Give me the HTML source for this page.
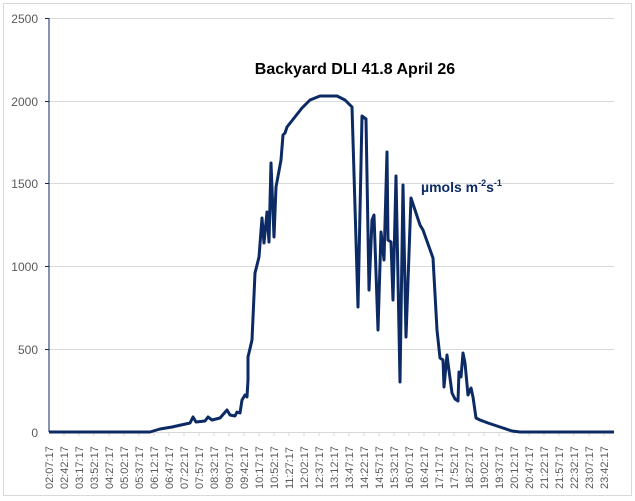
<!DOCTYPE html>
<html><head><style>
body{margin:0;background:#fff;}
svg{display:block;font-family:"Liberation Sans",sans-serif;}
</style></head><body>
<svg width="635" height="501" viewBox="0 0 635 501">
<rect x="3.5" y="3.5" width="628" height="492" fill="#fff" stroke="#d9d9d9"/>
<g stroke="#d9d9d9" stroke-width="1">
<line x1="49" y1="18.5" x2="614" y2="18.5"/>
<line x1="49" y1="101.5" x2="614" y2="101.5"/>
<line x1="49" y1="183.5" x2="614" y2="183.5"/>
<line x1="49" y1="266.5" x2="614" y2="266.5"/>
<line x1="49" y1="349.5" x2="614" y2="349.5"/>
</g>
<g fill="#595959" font-size="12" text-anchor="end">
<text x="38" y="23">2500</text><text x="38" y="106">2000</text><text x="38" y="188">1500</text>
<text x="38" y="271">1000</text><text x="38" y="354">500</text><text x="38" y="437">0</text>
</g>
<g stroke="#0c2a64" stroke-width="1">
<line x1="49" y1="18" x2="49" y2="432"/>
<line x1="45" y1="18.5" x2="49" y2="18.5"/><line x1="45" y1="101.5" x2="49" y2="101.5"/>
<line x1="45" y1="183.5" x2="49" y2="183.5"/><line x1="45" y1="266.5" x2="49" y2="266.5"/>
<line x1="45" y1="349.5" x2="49" y2="349.5"/>
</g>
<line x1="49" y1="432.5" x2="614" y2="432.5" stroke="#d9d9d9"/>
<g stroke="#d9d9d9">
<line x1="64" y1="432" x2="64" y2="436"/><line x1="79" y1="432" x2="79" y2="436"/><line x1="94" y1="432" x2="94" y2="436"/><line x1="109" y1="432" x2="109" y2="436"/><line x1="124" y1="432" x2="124" y2="436"/><line x1="139" y1="432" x2="139" y2="436"/><line x1="154" y1="432" x2="154" y2="436"/><line x1="169" y1="432" x2="169" y2="436"/><line x1="184" y1="432" x2="184" y2="436"/><line x1="199" y1="432" x2="199" y2="436"/><line x1="214" y1="432" x2="214" y2="436"/><line x1="229" y1="432" x2="229" y2="436"/><line x1="244" y1="432" x2="244" y2="436"/><line x1="259" y1="432" x2="259" y2="436"/><line x1="274" y1="432" x2="274" y2="436"/><line x1="289" y1="432" x2="289" y2="436"/><line x1="304" y1="432" x2="304" y2="436"/><line x1="319" y1="432" x2="319" y2="436"/><line x1="334" y1="432" x2="334" y2="436"/><line x1="349" y1="432" x2="349" y2="436"/><line x1="364" y1="432" x2="364" y2="436"/><line x1="379" y1="432" x2="379" y2="436"/><line x1="394" y1="432" x2="394" y2="436"/><line x1="409" y1="432" x2="409" y2="436"/><line x1="424" y1="432" x2="424" y2="436"/><line x1="439" y1="432" x2="439" y2="436"/><line x1="454" y1="432" x2="454" y2="436"/><line x1="469" y1="432" x2="469" y2="436"/><line x1="484" y1="432" x2="484" y2="436"/><line x1="499" y1="432" x2="499" y2="436"/><line x1="514" y1="432" x2="514" y2="436"/><line x1="529" y1="432" x2="529" y2="436"/><line x1="544" y1="432" x2="544" y2="436"/><line x1="559" y1="432" x2="559" y2="436"/><line x1="574" y1="432" x2="574" y2="436"/><line x1="589" y1="432" x2="589" y2="436"/><line x1="604" y1="432" x2="604" y2="436"/>
</g>
<g fill="#595959" font-size="11">
<text transform="translate(53,489) rotate(-90)">02:07:17</text>
<text transform="translate(68,489) rotate(-90)">02:42:17</text>
<text transform="translate(83,489) rotate(-90)">03:17:17</text>
<text transform="translate(98,489) rotate(-90)">03:52:17</text>
<text transform="translate(113,489) rotate(-90)">04:27:17</text>
<text transform="translate(128,489) rotate(-90)">05:02:17</text>
<text transform="translate(143,489) rotate(-90)">05:37:17</text>
<text transform="translate(158,489) rotate(-90)">06:12:17</text>
<text transform="translate(173,489) rotate(-90)">06:47:17</text>
<text transform="translate(188,489) rotate(-90)">07:22:17</text>
<text transform="translate(203,489) rotate(-90)">07:57:17</text>
<text transform="translate(218,489) rotate(-90)">08:32:17</text>
<text transform="translate(233,489) rotate(-90)">09:07:17</text>
<text transform="translate(248,489) rotate(-90)">09:42:17</text>
<text transform="translate(263,489) rotate(-90)">10:17:17</text>
<text transform="translate(278,489) rotate(-90)">10:52:17</text>
<text transform="translate(293,489) rotate(-90)">11:27:17</text>
<text transform="translate(308,489) rotate(-90)">12:02:17</text>
<text transform="translate(323,489) rotate(-90)">12:37:17</text>
<text transform="translate(338,489) rotate(-90)">13:12:17</text>
<text transform="translate(353,489) rotate(-90)">13:47:17</text>
<text transform="translate(368,489) rotate(-90)">14:22:17</text>
<text transform="translate(383,489) rotate(-90)">14:57:17</text>
<text transform="translate(398,489) rotate(-90)">15:32:17</text>
<text transform="translate(413,489) rotate(-90)">16:07:17</text>
<text transform="translate(428,489) rotate(-90)">16:42:17</text>
<text transform="translate(443,489) rotate(-90)">17:17:17</text>
<text transform="translate(458,489) rotate(-90)">17:52:17</text>
<text transform="translate(473,489) rotate(-90)">18:27:17</text>
<text transform="translate(488,489) rotate(-90)">19:02:17</text>
<text transform="translate(503,489) rotate(-90)">19:37:17</text>
<text transform="translate(518,489) rotate(-90)">20:12:17</text>
<text transform="translate(533,489) rotate(-90)">20:47:17</text>
<text transform="translate(548,489) rotate(-90)">21:22:17</text>
<text transform="translate(563,489) rotate(-90)">21:57:17</text>
<text transform="translate(578,489) rotate(-90)">22:32:17</text>
<text transform="translate(593,489) rotate(-90)">23:07:17</text>
<text transform="translate(608,489) rotate(-90)">23:42:17</text>
</g>
<polyline fill="none" stroke="#0c2a64" stroke-width="3" stroke-linejoin="round" points="49,432 150,432 160,429 172,427 190,423 193,417 196,422 205,421 208,417 212,420 220,418 227,410 230,415 235,416 237,412 240,413 242,400 245,395 247,397 248,380 248,357 252,340 255,273 259,257 262,218 264,243 267,212 269,242 271,163 274,237 276,187 281,160 283,135 285,133 287,127 302,108 310,100 320,96 337,96 345,100 352,107 358,307 362,116 366,119 369,290 372,220 374,215 378,330 381,232 384,260 387,152 388,240 391,242 393,300 396,176 400,382 403,185 406,337 411,198 420,225 423,230 433,258 437,330 440,358 443,360 444,387 447,355 448,363 452,393 455,399 458,401 459,372 461,377 463,353 465,363 468,395 471,388 473,397 476,418 480,420 488,423 500,427 512,431 520,432 614,432"/>
<text x="355" y="74" text-anchor="middle" font-size="16" font-weight="bold" fill="#000">Backyard DLI 41.8 April 26</text>
<text x="421" y="192" font-size="14" font-weight="bold" fill="#0c2a64">µmols m<tspan font-size="9" dy="-6">-2</tspan><tspan dy="6">s</tspan><tspan font-size="9" dy="-6">-1</tspan></text>
</svg>
</body></html>
